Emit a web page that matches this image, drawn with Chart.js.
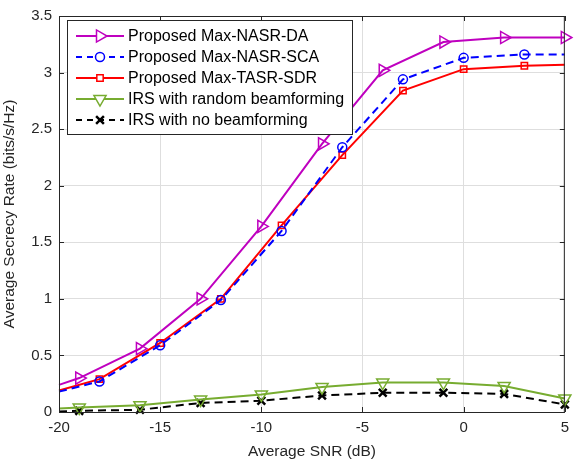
<!DOCTYPE html>
<html>
<head>
<meta charset="utf-8">
<script src="https://cdn.jsdelivr.net/npm/chart.js@4.4.1/dist/chart.umd.min.js"></script>
<style>
  html, body { margin: 0; padding: 0; background: #fff; }
  canvas { display: block; }
</style>
</head>
<body>
<canvas id="chart" width="576" height="461"></canvas>
<script>
// SNR grid for DA / random / no beamforming curves
const snrA = [-20, -19, -16, -13, -10, -7, -4, -1, 2, 5];
const rateDA = [0.24, 0.30, 0.56, 1.00, 1.64, 2.37, 3.02, 3.27, 3.31, 3.31];
const rateRandom = [0.03, 0.04, 0.06, 0.11, 0.155, 0.22, 0.26, 0.26, 0.23, 0.12];
const rateNone = [0.005, 0.01, 0.02, 0.08, 0.10, 0.146, 0.17, 0.17, 0.16, 0.067];

// SNR grid for SCA / SDR curves
const snrB = [-20, -18, -15, -12, -9, -6, -3, 0, 3, 5];
const rateSCA = [0.18, 0.27, 0.59, 0.99, 1.60, 2.34, 2.94, 3.13, 3.16, 3.16];
const rateSDR = [0.19, 0.29, 0.61, 1.00, 1.65, 2.27, 2.84, 3.03, 3.06, 3.07];

const xTicks = [-20, -15, -10, -5, 0, 5];
const yTicks = [0, 0.5, 1, 1.5, 2, 2.5, 3, 3.5];

const FONT = 'Liberation Sans, Arial, Helvetica, sans-serif';

function pts(xs, ys) { return xs.map((x, i) => ({ x: x, y: ys[i] })); }

const series = [
  { label: 'Proposed Max-NASR-DA', xs: snrA, ys: rateDA, color: '#BF00BF', style: 'triangle', rot: 90, r: 7, dash: [], noMark: [0] },
  { label: 'Proposed Max-NASR-SCA', xs: snrB, ys: rateSCA, color: '#0000FF', style: 'circle', rot: 0, r: 4.5, dash: [8, 5], noMark: [0, 9] },
  { label: 'Proposed Max-TASR-SDR', xs: snrB, ys: rateSDR, color: '#FF0000', style: 'rect', rot: 0, r: 4.5, dash: [], noMark: [0, 9] },
  { label: 'IRS with random beamforming', xs: snrA, ys: rateRandom, color: '#77AC30', style: 'triangle', rot: 180, r: 7, dash: [], noMark: [0] },
  { label: 'IRS with no beamforming', xs: snrA, ys: rateNone, color: '#000000', style: 'crossRot', rot: 0, r: 5.5, dash: [8, 5], noMark: [0] }
];

const boxPlugin = {
  id: 'box',
  afterDraw(chart) {
    const { ctx, chartArea: a, scales } = chart;
    ctx.save();
    ctx.strokeStyle = '#262626';
    ctx.lineWidth = 1;
    ctx.strokeRect(a.left + 0.5, a.top + 0.5, a.right - a.left - 1, a.bottom - a.top);
    // inward ticks on all four sides
    ctx.beginPath();
    xTicks.forEach(v => {
      const x = Math.round(scales.x.getPixelForValue(v)) + 0.5;
      ctx.moveTo(x, a.bottom); ctx.lineTo(x, a.bottom - 5);
      ctx.moveTo(x, a.top); ctx.lineTo(x, a.top + 5);
    });
    yTicks.forEach(v => {
      const y = Math.round(scales.y.getPixelForValue(v)) + 0.5;
      ctx.moveTo(a.left, y); ctx.lineTo(a.left + 5, y);
      ctx.moveTo(a.right, y); ctx.lineTo(a.right - 5, y);
    });
    ctx.stroke();

    // legend box inside the plot
    const bx = 67, by = 20, bw = 285, bh = 114;
    ctx.fillStyle = '#fff';
    ctx.fillRect(bx, by, bw, bh);
    ctx.strokeStyle = '#262626';
    ctx.strokeRect(bx + 0.5, by + 0.5, bw, bh);
    ctx.font = '16px ' + FONT;
    ctx.textBaseline = 'middle';
    series.forEach((s, i) => {
      const y = 36 + i * 21;
      ctx.strokeStyle = s.color;
      ctx.lineWidth = 2;
      ctx.setLineDash(s.dash.length ? [6, 5] : []);
      ctx.beginPath();
      ctx.moveTo(76, y); ctx.lineTo(124, y);
      ctx.stroke();
      ctx.setLineDash([]);
      ctx.fillStyle = '#fff';
      ctx.lineWidth = s.style === 'crossRot' ? 2.5 : 1.5;
      Chart.helpers.drawPoint(ctx, { pointStyle: s.style, rotation: s.rot, radius: s.r, borderWidth: ctx.lineWidth }, 100, y);
      ctx.fillStyle = '#000';
      ctx.fillText(s.label, 128, y + 1);
    });
    ctx.restore();
  }
};

new Chart(document.getElementById('chart'), {
  type: 'line',
  data: {
    datasets: series.map(s => ({
      label: s.label,
      data: pts(s.xs, s.ys),
      borderColor: s.color,
      backgroundColor: s.color,
      borderWidth: 2,
      borderDash: s.dash,
      pointStyle: s.style,
      rotation: s.rot,
      pointRadius: s.xs.map((_, i) => s.noMark.includes(i) ? 0 : s.r),
      pointBorderWidth: s.style === 'crossRot' ? 2.5 : 1.5,
      pointBackgroundColor: 'rgba(255,255,255,0)',
      pointBorderColor: s.color,
      tension: 0,
      clip: false
    }))
  },
  options: {
    responsive: false,
    animation: false,
    layout: { padding: { left: 0, right: 7, top: 12, bottom: 0 } },
    plugins: { legend: { display: false }, tooltip: { enabled: false } },
    scales: {
      x: {
        type: 'linear', min: -20, max: 5,
        afterBuildTicks: sc => { sc.ticks = xTicks.map(v => ({ value: v })); },
        afterFit: sc => { sc.height = 49; },
        grid: { color: '#dedede', drawTicks: false },
        border: { display: false },
        ticks: { color: '#262626', font: { family: FONT, size: 15 }, padding: 7, maxRotation: 0, callback: v => String(v) },
        title: { display: true, text: 'Average SNR (dB)', color: '#262626', font: { family: FONT, size: 15.5 }, padding: { top: 1, bottom: 0 } }
      },
      y: {
        type: 'linear', min: 0, max: 3.5,
        afterBuildTicks: sc => { sc.ticks = yTicks.map(v => ({ value: v })); },
        afterFit: sc => { sc.width = 59; },
        grid: { color: '#dedede', drawTicks: false },
        border: { display: false },
        ticks: { color: '#262626', font: { family: FONT, size: 15 }, padding: 7, callback: v => String(v) },
        title: { display: true, text: 'Average Secrecy Rate (bits/s/Hz)', color: '#262626', font: { family: FONT, size: 15.5 }, padding: { top: 0, bottom: 2 } }
      }
    }
  },
  plugins: [boxPlugin]
});
</script>
</body>
</html>
